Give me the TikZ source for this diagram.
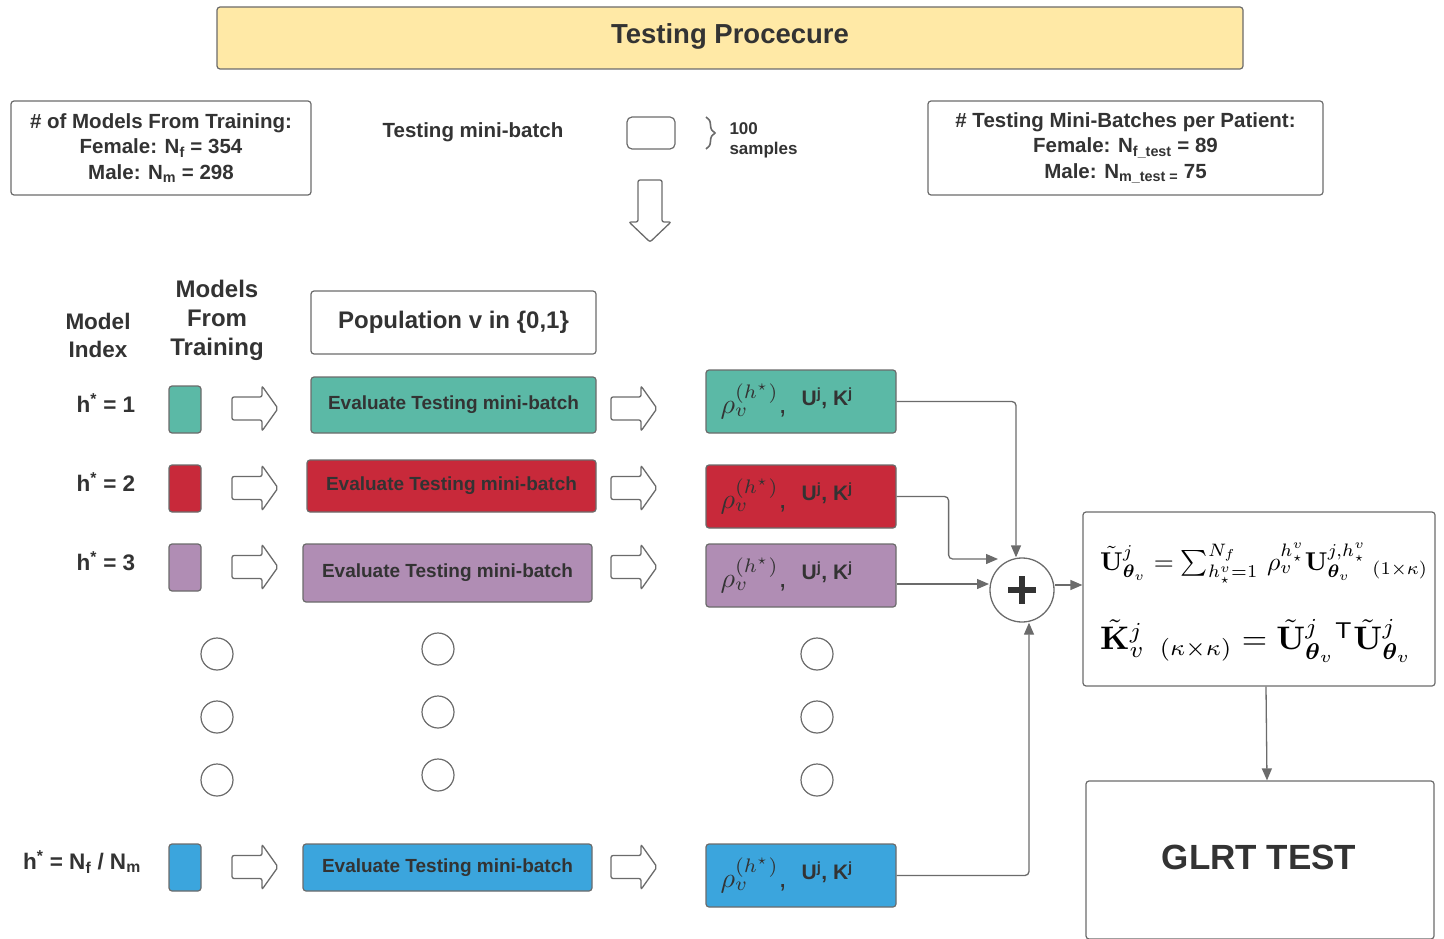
\documentclass[tikz,border=0pt]{standalone}
\usepackage{amsmath,bm,graphicx}
\usepackage[no-math]{fontspec}
\setmainfont{Liberation Sans}
\usetikzlibrary{arrows.meta,calc,decorations.pathreplacing}
\definecolor{txt}{HTML}{333333}
\definecolor{edge}{HTML}{6B6B6B}
\definecolor{ttl}{HTML}{FFE9A6}
\definecolor{cteal}{HTML}{5BB9A6}
\definecolor{cred}{HTML}{C8293A}
\definecolor{cpur}{HTML}{B08DB4}
\definecolor{cblue}{HTML}{3BA5DD}
\tikzset{
  box/.style={draw=edge, line width=1.2pt, rounded corners=3pt, inner sep=0pt, text=txt},
  evalbox/.style={box, font=\fontsize{19}{22}\selectfont\bfseries},
  sq/.style={box, minimum width=32pt, minimum height=47pt},
  rhobox/.style={box, minimum width=190pt, minimum height=63pt},
  dot/.style={draw=edge, line width=1.2pt, circle, minimum size=32pt, inner sep=0pt},
  lbl/.style={text=txt, font=\fontsize{22.5}{26}\selectfont\bfseries, align=center},
  conn/.style={draw=edge, line width=1.3pt, -{Triangle[length=12pt,width=10pt]}, rounded corners=4pt},
  rblock/.pic={\draw[edge, line width=1.3pt, fill=white, rounded corners=2pt]
     (0,-11.5) -- (30,-11.5) -- (30,-22.5) -- (46,0) -- (30,22.5) -- (30,11.5) -- (0,11.5) -- cycle;},
  dblock/.pic={\draw[edge, line width=1.3pt, fill=white, rounded corners=2pt]
     (-12,0) -- (12,0) -- (12,42) -- (21,42) -- (0,62) -- (-21,42) -- (-12,42) -- cycle;}
}
\begin{document}
\begin{tikzpicture}[x=1pt,y=-1pt]
\useasboundingbox (0,0) rectangle (1444,939);

% title
\node[box, fill=ttl, minimum width=1026pt, minimum height=62pt] (title) at (730,38) {};
\node[text=txt, font=\fontsize{27.5}{30}\selectfont\bfseries] (titlet) at (730,36) {Testing Procecure};

% top info boxes
\node[box, minimum width=300pt, minimum height=94pt, align=center,
      font=\fontsize{20.5}{25.5}\selectfont\bfseries] (nmodels) at (161,148)
  {\# of Models From Training:\\ Female: N\textsubscript{f} = 354\\ Male: N\textsubscript{m} = 298};
\node[box, minimum width=395pt, minimum height=94pt, align=center,
      font=\fontsize{20.5}{25.5}\selectfont\bfseries] (nbatch) at (1125.5,148)
  {\# Testing Mini-Batches per Patient:\\ Female: N\textsubscript{f\_test} = 89\\ Male: N\textsubscript{m\_test =} 75};

\node[lbl, font=\fontsize{20.5}{25}\selectfont\bfseries] (tmb) at (473,132) {Testing mini-batch};
\node[box, rounded corners=5pt, minimum width=48pt, minimum height=32pt] (mb) at (651,133) {};
\coordinate (bt) at (706,117);
\coordinate (bb) at (706,149);
\draw[edge, line width=1.6pt, decorate, decoration={brace, amplitude=9pt}] (bt) -- (bb);
\node[anchor=west, align=left, text=txt, font=\fontsize{17}{20}\selectfont\bfseries] (samples) at (726,140) {100\\samples};
\pic at (650,180) {dblock};

% column headers
\node[lbl, font=\fontsize{22.5}{28}\selectfont\bfseries] (mi) at (98,335) {Model\\Index};
\node[lbl, font=\fontsize{24}{29}\selectfont\bfseries] (mft) at (217,320) {Models\\From\\Training};
\node[box, minimum width=285pt, minimum height=63pt, font=\fontsize{24}{28}\selectfont\bfseries] (pop) at (453.5,322.5) {Population v in \{0,1\}};

% row labels
\node[lbl] (l1) at (106,403) {h\textsuperscript{*} = 1};
\node[lbl] (l2) at (106,482) {h\textsuperscript{*} = 2};
\node[lbl] (l3) at (106,561) {h\textsuperscript{*} = 3};
\node[lbl] (l4) at (82,862) {h\textsuperscript{*} = N\textsubscript{f} / N\textsubscript{m}};

% squares
\node[sq, fill=cteal] (s1) at (185,409.5) {};
\node[sq, fill=cred] (s2) at (185,488.5) {};
\node[sq, fill=cpur] (s3) at (185,567.5) {};
\node[sq, fill=cblue] (s4) at (185,867.5) {};

% block arrows
\pic at (232,408.5) {rblock};
\pic at (232,488) {rblock};
\pic at (232,567) {rblock};
\pic at (232,867) {rblock};
\pic at (611,408.5) {rblock};
\pic at (611,488) {rblock};
\pic at (611,567) {rblock};
\pic at (611,867) {rblock};

% evaluate boxes
\node[evalbox, fill=cteal, minimum width=285pt, minimum height=56pt] (e1) at (453.5,405) {Evaluate Testing mini-batch};
\node[evalbox, fill=cred, minimum width=289pt, minimum height=52pt] (e2) at (451.5,486) {Evaluate Testing mini-batch};
\node[evalbox, fill=cpur, minimum width=289pt, minimum height=58pt] (e3) at (447.5,573) {Evaluate Testing mini-batch};
\node[evalbox, fill=cblue, minimum width=289pt, minimum height=47pt] (e4) at (447.5,867.5) {Evaluate Testing mini-batch};

% rho boxes
\node[rhobox, fill=cteal] (r1) at (801,401.5) {};
\node[rhobox, fill=cred] (r2) at (801,496.5) {};
\node[rhobox, fill=cpur] (r3) at (801,575.5) {};
\node[rhobox, fill=cblue] (r4) at (801,875.5) {};
\foreach \r in {1,2,3,4}{
  \node[anchor=west, text=txt, inner sep=0pt] (rm\r) at ($(r\r.west)+(15,0)$)
    {\scalebox{2.8}{$\rho_v^{(h^\star)}$,}};
  \node[anchor=west, text=txt, inner sep=0pt, font=\fontsize{21}{24}\selectfont\bfseries] (rt\r) at ($(r\r.west)+(96,-3)$)
    {U\textsuperscript{j}, K\textsuperscript{j}};
}

% ellipsis dots
\foreach \y [count=\i] in {654,717,780}{
  \node[dot] (da\i) at (217,\y) {};
  \node[dot] (dc\i) at (817,\y) {};
}
\foreach \y [count=\i] in {649,712,775}{
  \node[dot] (db\i) at (438,\y) {};
}

% plus node
\node[draw=edge, line width=1.3pt, circle, minimum size=64pt, inner sep=0pt] (plus) at (1022,590) {};
\draw[txt, line width=5.5pt] ($(plus.center)+(-14,0)$) -- ($(plus.center)+(14,0)$);
\draw[txt, line width=5.5pt] ($(plus.center)+(0,-14)$) -- ($(plus.center)+(0,14)$);

% formula box
\node[box, minimum width=352pt, minimum height=174pt] (form) at (1259,599) {};
\node[anchor=west, inner sep=0pt] (f1) at (1100,563)
  {\resizebox{328pt}{!}{$\tilde{\mathbf U}^{j}_{\bm\theta_{v}} = \textstyle\sum_{h^{v}_{\star}=1}^{N_f}\,\rho_v^{h^v_\star}\mathbf U^{j,h^v_\star}_{\bm\theta_v}{}_{\;(1\times\kappa)}$}};
\node[anchor=west, inner sep=0pt] (f2) at (1100,641)
  {\resizebox{312pt}{!}{$\tilde{\mathbf K}^j_{v}{}_{\;\;(\kappa\times\kappa)} = \tilde{\mathbf U}^{j}_{\bm\theta_v}{}^{\mathsf T}\tilde{\mathbf U}^j_{\bm\theta_v}$}};

% GLRT box
\node[box, minimum width=348pt, minimum height=158pt] (glrt) at (1260,860) {};
\node[text=txt, font=\fontsize{35}{40}\selectfont\bfseries] (glrtt) at (1259,857) {GLRT TEST};

% connectors
\coordinate (j2) at (998,559);
\coordinate (j3) at (989,584);
\draw[conn] (r1.east) -| ([xshift=-6pt]plus.north);
\draw[conn] (r2.east) -- ++(52,0) |- (j2);
\draw[conn] (r3.east |- j3) -- (j3);
\draw[conn] (r4.east) -| ([xshift=7pt]plus.south);
\draw[conn] ([yshift=5pt]plus.east) -- ([yshift=5pt]form.west |- plus.east);
\draw[conn] ([xshift=7pt]form.south) -- ([xshift=7pt]glrt.north);
\end{tikzpicture}
\end{document}
